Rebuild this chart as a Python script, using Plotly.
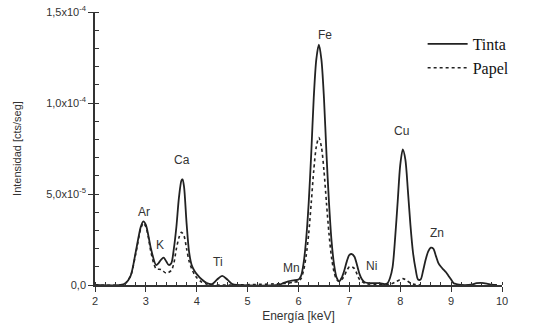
import plotly.graph_objects as go

# Energy (keV) and intensity (units of 1e-5 cts/seg)
tinta_x = [2.0, 2.5, 2.6, 2.7, 2.8, 2.9, 2.95, 3.0, 3.05, 3.1, 3.2, 3.25, 3.3, 3.35, 3.4, 3.45, 3.5,
           3.55, 3.6, 3.65, 3.7, 3.72, 3.75, 3.8, 3.85, 3.9, 3.95, 4.0, 4.1, 4.2, 4.3, 4.4, 4.5,
           4.6, 4.7, 4.8, 5.6, 5.7, 5.8, 5.9, 6.0, 6.05, 6.1, 6.15, 6.2, 6.25, 6.3, 6.35, 6.4,
           6.45, 6.5, 6.55, 6.6, 6.65, 6.7, 6.75, 6.8, 6.85, 6.9, 6.95, 7.0, 7.05, 7.1, 7.15,
           7.2, 7.25, 7.3, 7.4, 7.5, 7.6, 7.7, 7.75, 7.8, 7.85, 7.9, 7.95, 8.0, 8.05, 8.1, 8.15,
           8.2, 8.25, 8.3, 8.35, 8.4, 8.45, 8.5, 8.55, 8.6, 8.65, 8.7, 8.75, 8.8, 8.85, 8.9,
           8.95, 9.0, 9.05, 9.1, 9.2, 9.4, 9.5, 9.6, 9.7, 9.8, 9.9]
tinta_y = [0.0, 0.0, 0.1, 0.5, 1.8, 3.2, 3.5, 3.3, 2.7, 2.0, 1.1, 1.2, 1.4, 1.5, 1.3, 1.1, 1.2,
           2.0, 3.2, 4.8, 5.75, 5.8, 5.4, 3.4, 1.8, 1.1, 0.8, 0.6, 0.3, 0.1, 0.05, 0.3, 0.5,
           0.3, 0.05, 0.0, 0.0, 0.1, 0.2, 0.25, 0.3, 0.5, 1.2, 2.5, 4.5, 7.2, 10.3, 12.4, 13.2,
           12.4, 10.3, 7.2, 4.5, 2.4, 1.1, 0.4, 0.2, 0.4, 0.8, 1.3, 1.65, 1.7, 1.55, 1.1,
           0.6, 0.3, 0.15, 0.1, 0.1, 0.1, 0.05, 0.1, 0.4, 1.0, 2.6, 4.6, 6.6, 7.45, 6.9, 5.2,
           3.3, 1.8, 0.9, 0.3, 0.3, 0.8, 1.4, 1.85, 2.05, 2.0, 1.6, 1.2, 1.0, 0.85, 0.7,
           0.5, 0.3, 0.1, 0.05, 0.0, 0.02, 0.1, 0.12, 0.08, 0.02, 0.0]

papel_x = [2.0, 2.5, 2.6, 2.7, 2.8, 2.9, 2.95, 3.0, 3.05, 3.1, 3.2, 3.3, 3.4, 3.5, 3.55, 3.6,
           3.65, 3.7, 3.75, 3.8, 3.85, 3.9, 3.95, 4.0, 4.1, 4.2, 4.3, 5.8, 5.9, 6.0, 6.05, 6.1,
           6.15, 6.2, 6.25, 6.3, 6.35, 6.4, 6.45, 6.5, 6.55, 6.6, 6.65, 6.7, 6.75, 6.8, 6.85,
           6.9, 6.95, 7.0, 7.05, 7.1, 7.15, 7.2, 7.3, 7.4, 7.8, 7.9, 8.0, 8.05, 8.1, 8.2, 8.3, 8.4]
papel_y = [0.0, 0.0, 0.1, 0.5, 1.7, 3.1, 3.4, 3.2, 2.6, 1.8, 0.9, 0.85, 0.65, 0.8, 1.2, 2.0,
           2.6, 2.9, 2.7, 2.0, 1.3, 0.9, 0.6, 0.4, 0.15, 0.05, 0.0, 0.1, 0.15, 0.2, 0.35, 0.8,
           1.6, 2.8, 4.5, 6.3, 7.6, 8.1, 7.6, 6.3, 4.5, 2.8, 1.5, 0.7, 0.3, 0.2, 0.3,
           0.5, 0.8, 1.0, 1.0, 0.9, 0.6, 0.3, 0.1, 0.05, 0.05, 0.15, 0.3, 0.35, 0.3, 0.1, 0.02, 0.0]

peak_names = ["Ar", "K", "Ca", "Ti", "Mn", "Fe", "Ni", "Cu", "Zn"]
peak_label_x = [2.97, 3.28, 3.71, 4.42, 5.87, 6.52, 7.44, 8.03, 8.72]
peak_label_y = [4.0, 2.2, 6.85, 1.25, 0.92, 13.75, 1.03, 8.48, 2.83]

y_tickvals = [0, 5e-5, 1e-4, 1.5e-4]
y_ticktext = ["0,0", "5,0x10<sup>-5</sup>", "1,0x10<sup>-4</sup>", "1,5x10<sup>-4</sup>"]
x_tickvals = [2, 3, 4, 5, 6, 7, 8, 9, 10]

scale = 1e-5
fig = go.Figure()
fig.add_trace(go.Scatter(x=tinta_x, y=[v * scale for v in tinta_y], mode="lines", name="Tinta",
                         line=dict(color="#222222", width=1.8, shape="spline", smoothing=0.8)))
fig.add_trace(go.Scatter(x=papel_x, y=[v * scale for v in papel_y], mode="lines", name="Papel",
                         line=dict(color="#222222", width=1.6, dash="dot", shape="spline", smoothing=0.8)))

for n, lx, ly in zip(peak_names, peak_label_x, peak_label_y):
    fig.add_annotation(x=lx, y=ly * scale, text=n, showarrow=False,
                       font=dict(family="Liberation Sans, Arial", size=12, color="#333333"))

fig.update_layout(
    width=545, height=324,
    margin=dict(l=95, r=43, t=12, b=39, autoexpand=False),
    paper_bgcolor="white", plot_bgcolor="white",
    font=dict(family="Liberation Sans, Arial", color="#333333"),
    showlegend=True,
    legend=dict(x=0.805, y=0.945, xanchor="left", yanchor="top",
                font=dict(family="Liberation Serif, Times New Roman", size=16, color="#111111"),
                bgcolor="rgba(0,0,0,0)", itemwidth=40, tracegroupgap=0),
)
fig.update_xaxes(range=[2, 10], tickvals=x_tickvals, showgrid=False, zeroline=False,
                 showline=True, linecolor="#333333", linewidth=1.5, automargin=False,
                 ticks="outside", ticklen=5, tickwidth=1.2, tickcolor="#333333",
                 tickfont=dict(size=11, color="#333333"),
                 minor=dict(dtick=0.2, ticks="inside", ticklen=3, tickcolor="#333333"),
                 title=dict(text="Energía [keV]", font=dict(size=12, color="#333333"), standoff=6))
fig.update_yaxes(range=[0, 1.5e-4], tickvals=y_tickvals, ticktext=y_ticktext, showgrid=False,
                 zeroline=False, showline=True, linecolor="#333333", linewidth=1.5, automargin=False,
                 ticks="outside", ticklen=5, tickwidth=1.2, tickcolor="#333333",
                 tickfont=dict(size=11, color="#333333"),
                 minor=dict(dtick=1e-5, ticks="inside", ticklen=4, tickcolor="#333333"),
                 title=dict(text="Intensidad [cts/seg]", font=dict(size=11, color="#333333"), standoff=22))

fig.write_html("out.html")
